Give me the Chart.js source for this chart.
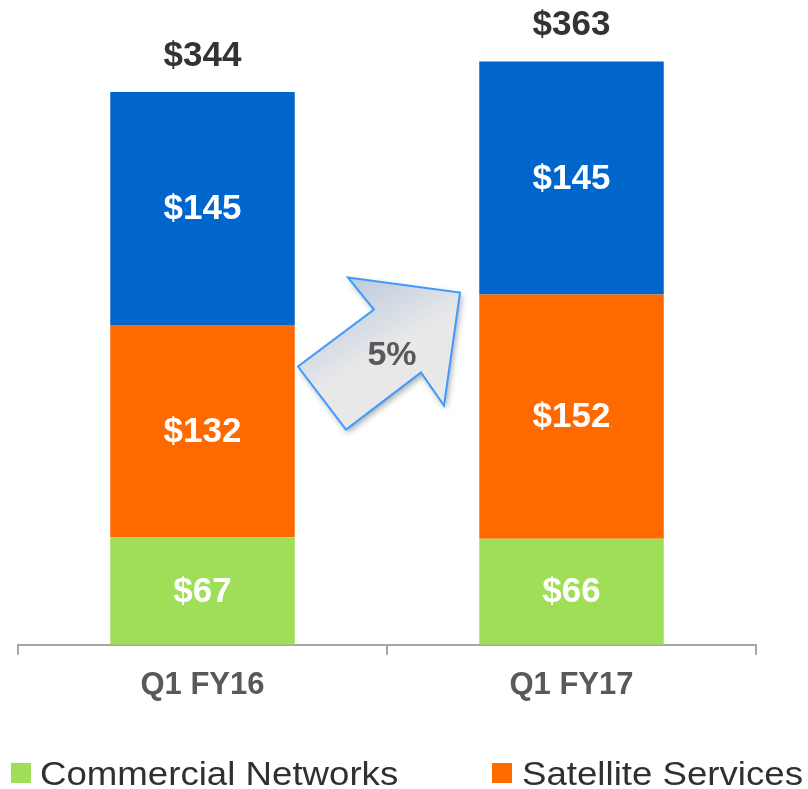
<!DOCTYPE html>
<html>
<head>
<meta charset="utf-8">
<script src="https://cdn.jsdelivr.net/npm/chart.js@4"></script>
<style>
    html, body { margin: 0; padding: 0; background: #ffffff; }
    #wrap { width: 808px; height: 789px; position: relative; }
</style>
</head>
<body>
<div id="wrap"><canvas id="barChart" width="808" height="789"></canvas></div>
<script>
const categories = ['Q1 FY16', 'Q1 FY17'];
const seriesNames = ['Commercial Networks', 'Satellite Services', 'Government Systems'];
const commercialNetworks = [67, 66];
const satelliteServices = [132, 152];
const governmentSystems = [145, 145];
const growthLabel = '5%';

const colors = ['#9fdf58', '#ff6a00', '#0066cc'];
const FONT = '"Liberation Sans", Arial, sans-serif';

// value labels inside segments + totals on top
const valueLabels = {
    id: 'valueLabels',
    afterDatasetsDraw(chart) {
        const ctx = chart.ctx;
        ctx.save();
        ctx.textAlign = 'center';
        ctx.textBaseline = 'middle';
        ctx.font = `bold 35px ${FONT}`;
        ctx.fillStyle = '#ffffff';
        chart.data.datasets.forEach((ds, i) => {
            const meta = chart.getDatasetMeta(i);
            meta.data.forEach((bar, j) => {
                ctx.fillText('$' + ds.data[j], bar.x, (bar.y + bar.base) / 2 + 1);
            });
        });
        const last = chart.getDatasetMeta(chart.data.datasets.length - 1);
        ctx.fillStyle = '#333333';
        categories.forEach((c, j) => {
            const total = chart.data.datasets.reduce((s, ds) => s + ds.data[j], 0);
            const bar = last.data[j];
            ctx.fillText('$' + total, bar.x, bar.y - 36);
        });
        ctx.restore();
    }
};

// growth arrow between the bars
const growthArrow = {
    id: 'growthArrow',
    afterDatasetsDraw(chart) {
        const ctx = chart.ctx;
        const xs = chart.scales.x;
        const ys = chart.scales.y;
        const cx = (xs.getPixelForValue(0) + xs.getPixelForValue(1)) / 2;
        const cy = ys.getPixelForValue(180);
        const pts = [[-39, -78], [73, -63], [57, 50], [34, 17], [-41, 74], [-89, 11], [-13, -46]];
        ctx.save();
        ctx.translate(cx, cy);
        ctx.beginPath();
        pts.forEach((p, i) => i ? ctx.lineTo(p[0], p[1]) : ctx.moveTo(p[0], p[1]));
        ctx.closePath();
        const g = ctx.createLinearGradient(-30, -80, 10, -10);
        g.addColorStop(0, '#bccbe0');
        g.addColorStop(1, '#e8e8e8');
        ctx.shadowColor = 'rgba(0,0,0,0.35)';
        ctx.shadowBlur = 6;
        ctx.shadowOffsetX = 2;
        ctx.shadowOffsetY = 3;
        ctx.fillStyle = g;
        ctx.fill();
        ctx.shadowColor = 'transparent';
        ctx.lineWidth = 2;
        ctx.strokeStyle = '#3d9bff';
        ctx.stroke();
        ctx.font = `bold 34px ${FONT}`;
        ctx.fillStyle = '#595959';
        ctx.textAlign = 'center';
        ctx.textBaseline = 'middle';
        ctx.fillText(growthLabel, 5, 0);
        ctx.restore();
    }
};

// legend along the bottom (only the entries that fit in the picture)
const bottomLegend = {
    id: 'bottomLegend',
    afterDraw(chart) {
        const ctx = chart.ctx;
        const items = [{ box: 11, text: 40 }, { box: 492, text: 522 }];
        ctx.save();
        ctx.textBaseline = 'alphabetic';
        ctx.font = `33px ${FONT}`;
        items.forEach((it, i) => {
            ctx.fillStyle = colors[i];
            ctx.fillRect(it.box, 763, 20, 20);
            ctx.fillStyle = '#303030';
            ctx.save();
            ctx.translate(it.text, 785);
            ctx.scale(1.11, 1);
            ctx.fillText(seriesNames[i], 0, 0);
            ctx.restore();
        });
        ctx.restore();
    }
};

const ctx = document.getElementById('barChart').getContext('2d');
new Chart(ctx, {
    type: 'bar',
    data: {
        labels: categories,
        datasets: [
            { label: seriesNames[0], data: commercialNetworks, backgroundColor: colors[0] },
            { label: seriesNames[1], data: satelliteServices, backgroundColor: colors[1] },
            { label: seriesNames[2], data: governmentSystems, backgroundColor: colors[2] }
        ]
    },
    options: {
        responsive: false,
        animation: false,
        devicePixelRatio: 1,
        datasets: {
            bar: { categoryPercentage: 1, barPercentage: 0.5, borderWidth: 0 }
        },
        layout: { padding: { left: 18, right: 52, top: 2, bottom: 73 } },
        plugins: { legend: { display: false }, tooltip: { enabled: false } },
        scales: {
            x: {
                stacked: true,
                grid: { drawOnChartArea: false, drawTicks: true, tickLength: 10, color: '#a6a6a6', lineWidth: 2 },
                border: { color: '#a6a6a6', width: 2 },
                ticks: { color: '#595959', padding: 12, font: { family: FONT, size: 31, weight: 'bold' } }
            },
            y: { stacked: true, display: false, min: 0, max: 400 }
        }
    },
    plugins: [valueLabels, growthArrow, bottomLegend]
});
</script>
</body>
</html>
